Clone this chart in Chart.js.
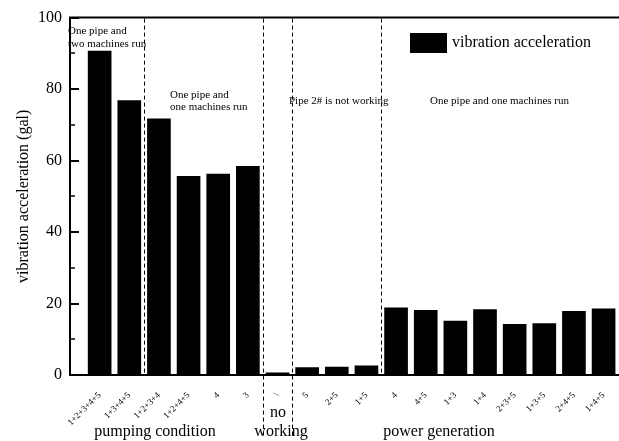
<!DOCTYPE html>
<html>
<head>
<meta charset="utf-8">
<script src="https://cdn.jsdelivr.net/npm/chart.js@4.4.1/dist/chart.umd.min.js"></script>
<style>
html,body{margin:0;padding:0;background:#fff;}
#wrap{width:619px;height:441px;position:relative;}
</style>
</head>
<body>
<div id="wrap"><canvas id="c" width="619" height="441"></canvas></div>
<script>
const categories = ['1+2+3+4+5','1+3+4+5','1+2+3+4','1+2+4+5','4','3','\\','5','2+5','1+5','4','4+5','1+3','1+4','2+3+5','1+3+5','2+4+5','1+4+5'];
const seriesName = 'vibration acceleration';
const values = [90.6, 76.8, 71.7, 55.6, 56.2, 58.4, 0.6, 2.1, 2.2, 2.6, 18.8, 18.1, 15.1, 18.3, 14.2, 14.4, 17.8, 18.5];
const yTicks = [0, 20, 40, 60, 80, 100];
const groupDividers = [2.5, 6.5, 7.5, 10.5];
const groupNames = ['pumping condition', 'no', 'working', 'power generation'];
const notes = ['One pipe and', 'two machines run', 'One pipe and', 'one machines run', 'Pipe 2# is not working', 'One pipe and one machines run'];

const points = values.map((v, i) => ({x: i + 1, y: v}));
const SERIF = '"Liberation Serif", "DejaVu Serif", serif';

const deco = {
  id: 'deco',
  afterDatasetsDraw(chart) {
    const ctx = chart.ctx, ca = chart.chartArea;
    const xs = chart.scales.x, ys = chart.scales.y;
    ctx.save();
    // top border
    ctx.strokeStyle = '#000'; ctx.lineWidth = 2;
    ctx.beginPath(); ctx.moveTo(ca.left - 1, ca.top); ctx.lineTo(chart.width, ca.top); ctx.stroke();
    // inward y ticks
    for (let v = 0; v <= 100; v += 10) {
      const y = Math.round(ys.getPixelForValue(v));
      const len = v % 20 === 0 ? 9 : 5;
      ctx.lineWidth = v % 20 === 0 ? 2 : 1.5;
      ctx.beginPath(); ctx.moveTo(ca.left, y); ctx.lineTo(ca.left + len, y); ctx.stroke();
    }
    // dashed dividers
    ctx.lineWidth = 1; ctx.setLineDash([4, 3]);
    groupDividers.forEach((d, i) => {
      const x = Math.round(xs.getPixelForValue(d)) + 0.5;
      const bottom = (i === 1 || i === 2) ? 436 : ca.bottom;
      ctx.beginPath(); ctx.moveTo(x, ca.top + 1); ctx.lineTo(x, bottom); ctx.stroke();
    });
    ctx.setLineDash([]);
    // legend
    ctx.fillStyle = '#000';
    ctx.fillRect(410, 33, 37, 20);
    ctx.font = '16px ' + SERIF; ctx.textBaseline = 'middle'; ctx.textAlign = 'left';
    ctx.fillText(seriesName, 452, 43);
    // notes
    ctx.font = '11px ' + SERIF;
    ctx.fillText(notes[0], 68, 31);
    ctx.fillText(notes[1], 68, 44);
    ctx.fillText(notes[2], 170, 95);
    ctx.fillText(notes[3], 170, 107);
    ctx.fillText(notes[4], 289, 101);
    ctx.fillText(notes[5], 430, 101);
    // group names
    ctx.font = '16px ' + SERIF; ctx.textAlign = 'center';
    ctx.fillText(groupNames[0], 155, 432);
    ctx.fillText(groupNames[1], 278, 413);
    ctx.fillText(groupNames[2], 281, 432);
    ctx.fillText(groupNames[3], 439, 432);
    ctx.restore();
  }
};

new Chart(document.getElementById('c'), {
  type: 'bar',
  data: {
    datasets: [{
      label: seriesName,
      data: points,
      backgroundColor: '#000',
      borderColor: '#000',
      borderWidth: 0,
      barThickness: 23
    }]
  },
  options: {
    responsive: false,
    animation: false,
    layout: {padding: {left: 0, right: 0, top: 17, bottom: 0}},
    plugins: {legend: {display: false}, tooltip: {enabled: false}},
    scales: {
      x: {
        type: 'linear',
        offset: false,
        min: 0,
        max: 18.52,
        grid: {display: false, drawTicks: false, offset: false},
        border: {display: true, color: '#000', width: 2},
        afterFit(s) { s.height = 66; s.paddingLeft = 0; s.paddingRight = 0; },
        afterBuildTicks(s) { s.ticks = categories.map((c, i) => ({value: i + 1})); },
        ticks: {
          autoSkip: false,
          minRotation: 45,
          maxRotation: 45,
          padding: 15,
          color: '#000',
          font: {family: SERIF, size: 9},
          callback: (v) => categories[Math.round(v) - 1] || ''
        }
      },
      y: {
        min: 0,
        max: 100,
        grid: {display: false, drawTicks: false},
        border: {display: true, color: '#000', width: 2},
        afterFit(s) { s.width = 70; },
        afterBuildTicks(s) { s.ticks = yTicks.map(v => ({value: v})); },
        ticks: {
          padding: 8,
          color: '#000',
          font: {family: SERIF, size: 16}
        },
        title: {
          display: true,
          text: 'vibration acceleration (gal)',
          color: '#000',
          font: {family: SERIF, size: 16},
          padding: {top: 14, bottom: 0}
        }
      }
    }
  },
  plugins: [deco]
});
</script>
</body>
</html>
